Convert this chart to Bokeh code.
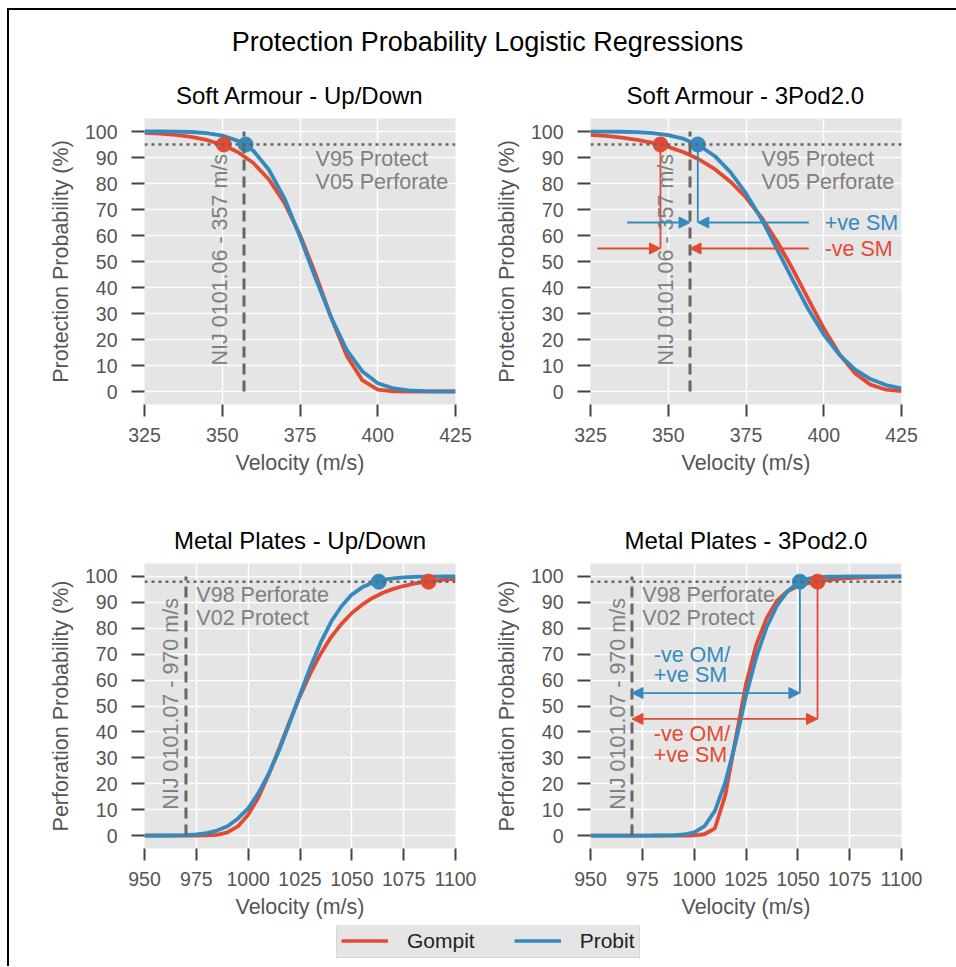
import numpy as np
from bokeh.plotting import figure
from bokeh.layouts import column, row
from bokeh.models import Label, Arrow, NormalHead, Legend, LegendItem, Range1d, FixedTicker, Span
from bokeh.embed import file_html
from bokeh.resources import INLINE

# ---------------- data ----------------
sa_velocity = [325, 330, 335, 340, 345, 350, 355, 360, 365, 370, 375,
               380, 385, 390, 395, 400, 405, 410, 415, 420, 425]
sa_updown_gompit = [99.46, 99.16, 98.68, 97.92, 96.75, 94.93, 92.12, 87.86, 81.56, 72.5, 60.3,
                    45.1, 28.5, 13.8, 4.4, 0.74, 0.04, 0.0, 0.0, 0.0, 0.0]
sa_updown_probit = [100.0, 100.0, 99.95, 99.8, 99.4, 98.4, 96.4, 92.6, 85.3, 74.3, 59.5,
                    43.5, 28.5, 16.0, 7.8, 3.2, 1.2, 0.45, 0.15, 0.05, 0.02]
sa_3pod_gompit = [98.74, 98.28, 97.66, 96.81, 95.65, 94.09, 92.0, 89.2, 85.5, 80.7, 74.6,
                  66.9, 57.7, 47.1, 35.6, 24.3, 14.4, 7.06, 2.65, 0.69, 0.11]
sa_3pod_probit = [99.99, 99.97, 99.90, 99.74, 99.38, 98.62, 97.16, 94.6, 90.5, 84.4, 76.2,
                  66.2, 54.7, 42.9, 31.7, 21.9, 14.2, 8.55, 4.78, 2.48, 1.19]

mp_velocity = [950, 955, 960, 965, 970, 975, 980, 985, 990, 995, 1000, 1005, 1010, 1015, 1020,
               1025, 1030, 1035, 1040, 1045, 1050, 1055, 1060, 1065, 1070, 1075, 1080, 1085,
               1090, 1095, 1100]
mp_updown_gompit = [0.0, 0.0, 0.0, 0.0, 0.0, 0.0, 0.04, 0.28, 1.2, 3.5, 8.0, 14.8, 23.7, 33.7, 44.0,
                    53.8, 62.6, 70.2, 76.6, 81.7, 85.9, 89.1, 91.7, 93.7, 95.2, 96.3, 97.2, 97.9,
                    98.4, 98.8, 99.1]
mp_updown_probit = [0.0, 0.01, 0.02, 0.06, 0.15, 0.4, 0.9, 1.9, 3.6, 6.5, 10.5, 16.5, 24.0, 33.0, 43.5,
                    54.5, 65.0, 74.5, 82.5, 88.5, 93.0, 95.8, 97.6, 98.7, 99.3, 99.65, 99.85, 99.93,
                    99.97, 99.99, 100.0]
mp_3pod_gompit = [0.0, 0.0, 0.0, 0.0, 0.0, 0.0, 0.0, 0.0, 0.0, 0.0, 0.05, 0.5, 2.8, 15.5, 37.2,
                  58.5, 73.8, 84.0, 90.7, 94.3, 96.3, 97.4, 98.1, 98.7, 99.1, 99.4, 99.6, 99.75,
                  99.85, 99.92, 99.96]
mp_3pod_probit = [0.0, 0.0, 0.0, 0.0, 0.0, 0.0, 0.01, 0.03, 0.1, 0.4, 1.2, 3.6, 9.5, 20.5, 36.0,
                  54.0, 69.0, 80.5, 88.8, 94.2, 97.6, 99.2, 99.7, 99.9, 99.97, 100.0, 100.0, 100.0,
                  100.0, 100.0, 100.0]

# V95 / V98 velocities [Gompit, Probit]
sa_updown_v95 = [350.5, 357.5]
sa_3pod_v95 = [347.5, 359.5]
mp_updown_v98 = [1087.0, 1063.0]
mp_3pod_v98 = [1059.5, 1051.0]

sa_nij = 357
mp_nij = 970
sa_level = 95
mp_level = 98

sa_ticks = [325, 350, 375, 400, 425]
mp_ticks = [950, 975, 1000, 1025, 1050, 1075, 1100]
prob_ticks = [0, 10, 20, 30, 40, 50, 60, 70, 80, 90, 100]

series_names = ["Gompit", "Probit"]

# ---------------- style ----------------
FONT = "Liberation Sans"
RED = "#E24A33"
BLUE = "#348ABD"
TXT_GRAY = "#808080"
REF_GRAY = "#666666"


def make_panel(title, xlim, xticks, ylabel, vel, gomp, prob, marks, level, nij,
               nij_label, nij_text_x, notes, note_x, note_ys,
               width, height, mbl, mbr, mbt, mbb):
    p = figure(width=width, height=height, x_range=Range1d(*xlim), y_range=Range1d(-5, 105),
               output_backend="svg", toolbar_location=None,
               min_border_left=mbl, min_border_right=mbr, min_border_top=mbt, min_border_bottom=mbb,
               background_fill_color="#E5E5E5", border_fill_color="white", outline_line_color=None)
    p.title.text = title
    p.title.align = "center"
    p.title.text_font = FONT
    p.title.text_font_size = "24px"
    p.title.text_font_style = "normal"
    p.title.text_color = "black"
    p.title.standoff = 20

    p.xaxis.ticker = FixedTicker(ticks=xticks)
    p.yaxis.ticker = FixedTicker(ticks=prob_ticks)
    p.xaxis.axis_label = "Velocity (m/s)"
    p.yaxis.axis_label = ylabel
    for ax in p.axis:
        ax.axis_line_color = None
        ax.major_tick_line_color = "#444444"
        ax.major_tick_line_width = 2
        ax.major_tick_in = 0
        ax.minor_tick_line_color = None
        ax.major_label_text_font = FONT
        ax.major_label_text_font_size = "19.5px"
        ax.major_label_text_color = "#555555"
        ax.axis_label_text_font = FONT
        ax.axis_label_text_font_size = "21.5px"
        ax.axis_label_text_font_style = "normal"
        ax.axis_label_text_color = "#555555"
    p.xaxis.major_tick_out = 12
    p.xaxis.major_label_standoff = 11
    p.xaxis.axis_label_standoff = 6
    p.yaxis.major_tick_out = 13
    p.yaxis.major_label_standoff = 14
    p.yaxis.axis_label_standoff = 9
    p.grid.grid_line_color = "white"
    p.grid.grid_line_width = 1.5

    rg = p.line(vel, gomp, line_color=RED, line_width=3.8)
    rp = p.line(vel, prob, line_color=BLUE, line_width=3.8)
    p.scatter([marks[0]], [level], size=15, color=RED)
    p.scatter([marks[1]], [level], size=15, color=BLUE)
    p.add_layout(Span(location=level, dimension="width", line_color=REF_GRAY,
                      line_width=2.5, line_dash="3 4"))
    p.line([nij, nij], [0, 100], line_color=REF_GRAY, line_width=3, line_dash="11 6")
    p.add_layout(Label(x=nij_text_x, y=10, x_offset=-5, text=nij_label, angle=np.pi / 2,
                       text_align="left", text_baseline="alphabetic", text_font=FONT,
                       text_font_size="21.5px", text_color=TXT_GRAY))
    for t, yy in zip(notes, note_ys):
        p.add_layout(Label(x=note_x, y=yy, text=t, text_align="left", text_baseline="middle",
                           text_font=FONT, text_font_size="21.5px", text_color=TXT_GRAY))
    return p, rg, rp


def arrow(p, x0, x1, y, color, double=False):
    head = lambda: NormalHead(size=11, fill_color=color, line_color=color, line_width=1)
    p.add_layout(Arrow(start=head() if double else None, end=head(),
                       x_start=x0, y_start=y, x_end=x1, y_end=y,
                       line_color=color, line_width=1.8))


def note(p, x, y, text, color):
    p.add_layout(Label(x=x, y=y, text=text, text_align="left", text_baseline="middle",
                       text_font=FONT, text_font_size="21.5px", text_color=color))


LW, LR = 135, 28
RW, RR = 107, 56
W_L = LW + 311 + LR
W_R = RW + 311 + RR
T1, B1 = 54, 99
T2, B2 = 60, 77
H1 = T1 + 286 + B1
H2 = T2 + 285 + B2

sa_notes = ["V95 Protect", "V05 Perforate"]
mp_notes = ["V98 Perforate", "V02 Protect"]

p1, g1, b1 = make_panel("Soft Armour - Up/Down", (325, 425), sa_ticks, "Protection Probability (%)",
                        sa_velocity, sa_updown_gompit, sa_updown_probit, sa_updown_v95, sa_level,
                        sa_nij, "NIJ 0101.06 - 357 m/s", sa_nij - 6.1, sa_notes, 380, [89.3, 80.6],
                        W_L, H1, LW, LR, T1, B1)
p2, g2, b2 = make_panel("Soft Armour - 3Pod2.0", (325, 425), sa_ticks, "Protection Probability (%)",
                        sa_velocity, sa_3pod_gompit, sa_3pod_probit, sa_3pod_v95, sa_level,
                        sa_nij, "NIJ 0101.06 - 357 m/s", sa_nij - 6.1, sa_notes, 380, [89.3, 80.6],
                        W_R, H1, RW, RR, T1, B1)
p3, g3, b3 = make_panel("Metal Plates - Up/Down", (950, 1100), mp_ticks, "Perforation Probability (%)",
                        mp_velocity, mp_updown_gompit, mp_updown_probit, mp_updown_v98, mp_level,
                        mp_nij, "NIJ 0101.07 - 970 m/s", mp_nij - 5.0, mp_notes, 975, [92.7, 83.9],
                        W_L, H2, LW, LR, T2, B2)
p4, g4, b4 = make_panel("Metal Plates - 3Pod2.0", (950, 1100), mp_ticks, "Perforation Probability (%)",
                        mp_velocity, mp_3pod_gompit, mp_3pod_probit, mp_3pod_v98, mp_level,
                        mp_nij, "NIJ 0101.07 - 970 m/s", mp_nij - 4.5, mp_notes, 975, [92.7, 83.9],
                        W_R, H2, RW, RR, T2, B2)

# --- Soft armour 3Pod2.0 safety-margin arrows ---
g95, p95 = sa_3pod_v95
p2.line([p95, p95], [sa_level, 65], line_color=BLUE, line_width=1.8)
p2.line([g95, g95], [sa_level, 55], line_color=RED, line_width=1.8)
arrow(p2, 336.8, sa_nij, 65, BLUE)
arrow(p2, 395.2, p95, 65, BLUE)
arrow(p2, 327.2, g95, 55, RED)
arrow(p2, 395.2, sa_nij, 55, RED)
note(p2, 400.3, 65, "+ve SM", BLUE)
note(p2, 400.3, 55, "-ve SM", RED)

# --- Metal plates 3Pod2.0 margin arrows ---
g98, p98 = mp_3pod_v98
p4.line([p98, p98], [mp_level, 55], line_color=BLUE, line_width=1.8)
p4.line([g98, g98], [mp_level, 45], line_color=RED, line_width=1.8)
arrow(p4, mp_nij, p98, 55, BLUE, double=True)
arrow(p4, mp_nij, g98, 45, RED, double=True)
note(p4, 980.5, 69.5, "-ve OM/", BLUE)
note(p4, 980.5, 61.8, "+ve SM", BLUE)
note(p4, 980.5, 39.3, "-ve OM/", RED)
note(p4, 980.5, 30.9, "+ve SM", RED)

# --- suptitle ---
TOTAL_W = W_L + W_R
tf = figure(width=TOTAL_W, height=54, x_range=Range1d(0, 1), y_range=Range1d(0, 1),
            x_axis_type=None, y_axis_type=None, min_border=0, toolbar_location=None,
            outline_line_color=None, output_backend="svg")
tf.add_layout(Label(x=478, y=23, x_units="screen", y_units="screen",
                    text="Protection Probability Logistic Regressions", text_align="center",
                    text_baseline="middle", text_font=FONT, text_font_size="27px", text_color="black"))

# --- legend ---
LEG_H = 41
lf = figure(width=TOTAL_W, height=LEG_H, x_range=Range1d(0, 1), y_range=Range1d(0, 1),
            x_axis_type=None, y_axis_type=None, min_border=0, toolbar_location=None,
            outline_line_color=None, output_backend="svg")
lg = lf.line([np.nan, np.nan], [np.nan, np.nan], line_color=RED, line_width=3.5)
lb = lf.line([np.nan, np.nan], [np.nan, np.nan], line_color=BLUE, line_width=3.5)
legend = Legend(items=[LegendItem(label=series_names[0], renderers=[lg]),
                       LegendItem(label=series_names[1], renderers=[lb])],
                orientation="horizontal", location=(327, LEG_H - 33),
                label_text_font=FONT, label_text_font_size="21px", label_text_color="#222222",
                glyph_width=47, glyph_height=25, label_height=25, label_standoff=19,
                spacing=39, padding=4, margin=0, border_line_color="#CCCCCC",
                border_line_width=1, background_fill_color="#E5E5E5", background_fill_alpha=1)
lf.add_layout(legend)

layout = column(tf, row(p1, p2), row(p3, p4), lf, margin=(8, 0, 0, 7),
                styles={"border-left": "2px solid black", "border-top": "2px solid black"})

open("out.html", "w").write(file_html(layout, INLINE))
